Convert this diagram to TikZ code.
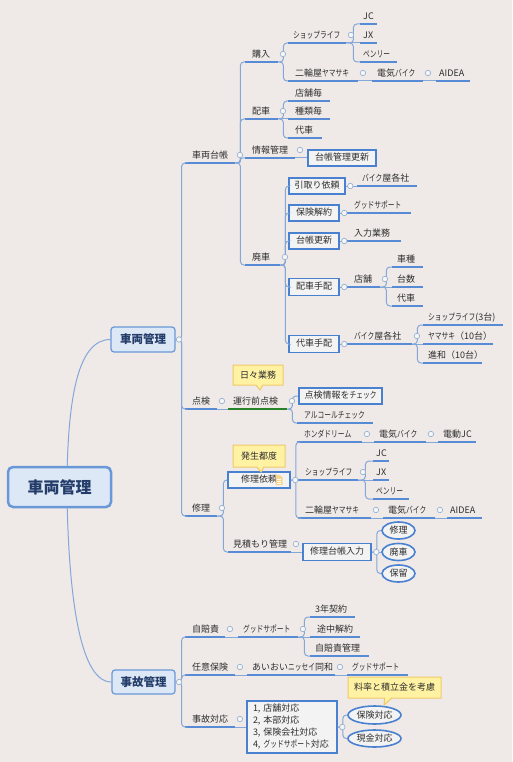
\documentclass[tikz,border=0pt]{standalone}
\usepackage{fontspec}
\setmainfont{Noto Sans CJK JP}
\usetikzlibrary{shapes.geometric,shapes.callouts,calc}
\definecolor{bgc}{RGB}{239,234,231}
\definecolor{txt}{RGB}{45,45,45}
\definecolor{ulc}{RGB}{88,139,214}
\definecolor{cnc}{RGB}{132,167,218}
\definecolor{bxc}{RGB}{74,128,208}
\definecolor{bxf}{RGB}{243,243,244}
\definecolor{l1f}{RGB}{221,232,246}
\definecolor{l1b}{RGB}{104,152,216}
\definecolor{l1t}{RGB}{35,60,105}
\definecolor{cof}{RGB}{255,242,163}
\definecolor{cob}{RGB}{240,200,105}
\definecolor{fcc}{RGB}{150,178,214}
\definecolor{grn}{RGB}{40,130,40}
\definecolor{notec}{RGB}{247,214,140}
\newcommand\tfont{\fontsize{9}{12}\selectfont}
\newcommand\hk[1]{\scalebox{0.75}[1]{#1}}
\newcommand\cnn[3]{\draw[conn] (#1) -- ++(#3,0) |- (#2);}
\newcommand\cns[2]{\draw[conn] (#1) -- (#2);}
\begin{document}
\begin{tikzpicture}[x=1pt,y=-1pt,
  pw/.code 2 args={\pgfmathsetmacro\twv{#1-2*#2}\edef\twtmp{\noexpand\tikzset{inner xsep=#2pt,text width=\twv pt}}\twtmp},
  tw/.style={pw={#1}{7}},
  tw5/.style={pw={#1}{5}},
  twn/.style={pw={#1}{3}},
  uline/.style={draw=ulc,line width=1.5pt},
  ulineg/.style={draw=grn,line width=1.5pt},
  tbase/.style={font=\tfont,text=txt,anchor=south west,inner ysep=2.5pt,text height=7pt,text depth=2pt,align=left},
  t/.style={tbase,append after command={(\tikzlastnode.south west) edge[uline] (\tikzlastnode.south east)}},
  tg/.style={tbase,append after command={(\tikzlastnode.south west) edge[ulineg] (\tikzlastnode.south east)}},
  bx/.style={draw=bxc,line width=1.6pt,fill=bxf,font=\tfont,text=txt,inner sep=0pt,minimum height=16pt,text height=7pt,text depth=2pt},
  el/.style={ellipse,draw=bxc,line width=1.6pt,fill=bxf,font=\tfont,text=txt,inner sep=0pt,minimum width=33pt,minimum height=17pt},
  co/.style={rectangle callout,draw=cob,fill=cof,line width=1pt,font=\tfont,text=txt,inner sep=0pt,callout pointer width=7pt},
  l0/.style={draw=l1b,line width=2.5pt,fill=l1f,rounded corners=5pt,minimum width=103pt,minimum height=40pt,font=\fontsize{16}{18}\selectfont\bfseries,text=l1t,inner sep=0pt},
  l1/.style={draw=l1b,line width=1.2pt,fill=l1f,rounded corners=3pt,minimum width=64pt,minimum height=25pt,font=\fontsize{11.5}{13}\selectfont\bfseries,text=l1t,inner sep=0pt},
  conn/.style={draw=cnc,line width=1pt,rounded corners=3.5pt},
  fc/.style={circle,draw=fcc,fill=white!55!bgc,line width=0.7pt,minimum size=5.5pt,inner sep=0pt}
]
\fill[bgc] (0,0) rectangle (512,762);
\useasboundingbox (0,0) rectangle (512,762);

% main nodes
\node[l0] (cen) at (59.5,487) {車両管理};
\node[l1] (sk1) at (143,339.5) {車両管理};
\node[l1,minimum width=63pt,minimum height=24pt] (jk1) at (143.5,682) {事故管理};

% vehicle ledger
\node[t,tw=50] (shadai) at (185,163) {車両台帳};
\node[t,tw=32] (tenken) at (185,409) {点検};
\node[t,tw=32] (shuri) at (185,516) {修理};
\node[t,tw=33] (konyu) at (245,62) {購入};
\node[t,tw=33] (haisha) at (245,119) {配車};
\node[t,tw=50] (joho) at (245,158) {情報管理};
\node[t,tw=35] (haisha2) at (245,265) {廃車};
\node[t,tw5=58] (shop1) at (288,43) {\hk{ショップライフ}};
\node[t,tw=70] (nirin1) at (288,81) {二輪屋\hk{ヤマサキ}};
\node[t,twn=17] (jc1) at (360,24) {JC};
\node[t,twn=17] (jx1) at (360,43) {JX};
\node[t,twn=37] (pen1) at (360,62) {\hk{ペンリー}};
\node[t,tw5=51] (den1) at (372,81) {電気\hk{バイク}};
\node[t,twn=34] (aidea1) at (436,81) {AIDEA};
\node[t,tw=42] (tenpo1) at (288,101) {店舗毎};
\node[t,tw=42] (shurui) at (288,119) {種類毎};
\node[t,tw=34] (daisha1) at (288,138) {代車};
\node[bx,minimum width=68pt] (kanri) at (342,158) {台帳管理更新};
\node[bx,minimum width=56pt] (hikitori) at (317,186) {引取り依頼};
\node[bx,minimum width=50pt] (hoken) at (314,213) {保険解約};
\node[bx,minimum width=50pt] (daicho) at (314,241) {台帳更新};
\node[bx,minimum width=50pt,minimum height=17pt] (haishate) at (314,287) {配車手配};
\node[bx,minimum width=50pt,minimum height=17pt] (daishate) at (314,344) {代車手配};
\node[t,tw5=60] (bike1) at (357,186) {\hk{バイク}屋各社};
\node[t,tw=64] (good1) at (347,213) {\hk{グッドサポート}};
\node[t,tw=54] (nyuryoku) at (347,241) {入力業務};
\node[t,tw=33] (tenpo2) at (347,287) {店舗};
\node[t,tw5=31] (shashu) at (392,267) {車種};
\node[t,tw5=31] (daisu) at (392,287) {台数};
\node[t,tw5=31] (daisha2) at (392,306) {代車};
\node[t,tw=65] (bike2) at (347,344) {\hk{バイク}屋各社};
\node[t,tw5=80] (shopl3) at (423,325) {\hk{ショップライフ}(3台)};
\node[t,tw5=70] (yama10) at (423,344) {\hk{ヤマサキ}（10台）};
\node[t,tw5=59] (shinwa) at (423,363) {進和（10台）};

% inspection
\node[tg,tw5=59] (unko) at (228,409) {運行前点検};
\node[bx,minimum width=83pt] (chk) at (340.5,396) {点検情報を\hk{チェック}};
\node[t,tw=76] (alc) at (297,423) {\hk{アルコールチェック}};

% repair
\node[bx,minimum width=62pt] (irai) at (259,480) {修理依頼\hspace{12pt}};
\fill[notec] (275.5,475) -- (280,475) -- (282.5,477.5) -- (282.5,485) -- (275.5,485) -- cycle;
\draw[white,line width=0.5pt] (277,479) -- (281,479) (277,481) -- (281,481) (277,483) -- (281,483);
\node[t,tw=65] (honda) at (297,442) {\hk{ホンダドリーム}};
\node[t,tw5=52] (den2) at (374,442) {電気\hk{バイク}};
\node[t,tw5=38] (dendo) at (438,442) {電動JC};
\node[t,tw=60] (shop2) at (298,480) {\hk{ショップライフ}};
\node[t,twn=16] (jc2) at (373,461) {JC};
\node[t,twn=16] (jx2) at (373,480) {JX};
\node[t,twn=36] (pen2) at (373,499) {\hk{ペンリー}};
\node[t,tw=73] (nirin2) at (298,518) {二輪屋\hk{ヤマサキ}};
\node[t,tw5=52] (den3) at (383,518) {電気\hk{バイク}};
\node[t,twn=35] (aidea2) at (447,518) {AIDEA};
\node[t,tw5=63] (mitsu) at (228,552) {見積もり管理};
\node[bx,minimum width=68pt,minimum height=17pt] (daicho2) at (337,552) {修理台帳入力};
\node[el] (e1) at (398.5,530.5) {修理};
\node[el] (e2) at (398.5,552) {廃車};
\node[el] (e3) at (398.5,573.5) {保留};

% accidents
\node[t,tw=40] (jibai) at (185,637) {自賠責};
\node[t,tw5=60] (good2) at (238,637) {\hk{グッドサポート}};
\node[t,tw5=45] (sannen) at (310,617) {3年契約};
\node[t,tw=50] (tochu) at (310,637) {途中解約};
\node[t,tw5=59] (jkanri) at (310,656) {自賠責管理};
\node[t,tw=50] (nini) at (185,675) {任意保険};
\node[t,tw5=88] (aioi) at (247,675) {あいおい\hk{ニッセイ}同和};
\node[t,tw5=61] (good3) at (347,675) {\hk{グッドサポート}};
\node[t,tw=50] (jiko) at (185,727) {事故対応};
\node[bx,minimum height=52pt,text width=78pt,inner xsep=6pt,align=left,text height=,text depth=] (list) at (292,727) {1, 店舗対応\\2, 本部対応\\3, 保険会社対応\\4, \hk{グッドサポート}対応};
\node[el,minimum width=53pt,minimum height=18pt] (hoke) at (374.5,715) {保険対応};
\node[el,minimum width=53pt,minimum height=17pt] (genk) at (374.5,738.5) {現金対応};

% callouts
\node[co,minimum width=50pt,minimum height=20pt,callout absolute pointer={(260,390)}] (co1) at (258,375) {日々業務};
\node[co,minimum width=52pt,minimum height=22pt,callout absolute pointer={(261,472)}] (co2) at (259,456) {発生都度};
\node[co,minimum width=93pt,minimum height=21pt,callout absolute pointer={(384,705)}] (co3) at (394.5,687.5) {料率と積立金を考慮};

% connectors
\draw[conn] (cen.70) .. controls +(2,-70) and +(-32,0) .. (sk1.west);
\draw[conn] (cen.-70) .. controls +(2,75) and +(-34,0) .. (jk1.west);
\cnn{sk1.east}{shadai.south west}{6}
\cnn{sk1.east}{tenken.south west}{6}
\cnn{sk1.east}{shuri.south west}{6}
\cnn{shadai.south east}{konyu.south west}{5}
\cnn{shadai.south east}{haisha.south west}{5}
\draw[conn,rounded corners=2pt] (shadai.south east) -- ++(5,0) |- (joho.south west);
\cnn{shadai.south east}{haisha2.south west}{5}
\cnn{konyu.south east}{shop1.south west}{5}
\cnn{konyu.south east}{nirin1.south west}{5}
\cnn{shop1.south east}{jc1.south west}{7}
\cns{shop1.south east}{jx1.south west}
\cnn{shop1.south east}{pen1.south west}{7}
\cns{nirin1.south east}{den1.south west}
\cns{den1.south east}{aidea1.south west}
\cnn{haisha.south east}{tenpo1.south west}{5}
\cns{haisha.south east}{shurui.south west}
\cnn{haisha.south east}{daisha1.south west}{5}
\cns{joho.south east}{kanri.west}
\cnn{haisha2.south east}{hikitori.west}{5}
\cnn{haisha2.south east}{hoken.west}{5}
\cnn{haisha2.south east}{daicho.west}{5}
\cnn{haisha2.south east}{haishate.west}{5}
\cnn{haisha2.south east}{daishate.west}{5}
\cns{hikitori.east}{bike1.south west}
\cns{hoken.east}{good1.south west}
\cns{daicho.east}{nyuryoku.south west}
\cns{haishate.east}{tenpo2.south west}
\cns{daishate.east}{bike2.south west}
\cnn{tenpo2.south east}{shashu.south west}{6}
\cns{tenpo2.south east}{daisu.south west}
\cnn{tenpo2.south east}{daisha2.south west}{6}
\cnn{bike2.south east}{shopl3.south west}{5}
\cns{bike2.south east}{yama10.south west}
\cnn{bike2.south east}{shinwa.south west}{5}
\cns{tenken.south east}{unko.south west}
\cnn{unko.south east}{chk.west}{5}
\cnn{unko.south east}{alc.south west}{5}
\cnn{shuri.south east}{irai.west}{6}
\cnn{shuri.south east}{mitsu.south west}{6}
\cnn{irai.east}{honda.south west}{5}
\cns{irai.east}{shop2.south west}
\cnn{irai.east}{nirin2.south west}{5}
\cns{honda.south east}{den2.south west}
\cns{den2.south east}{dendo.south west}
\cnn{shop2.south east}{jc2.south west}{7}
\cns{shop2.south east}{jx2.south west}
\cnn{shop2.south east}{pen2.south west}{7}
\cns{nirin2.south east}{den3.south west}
\cns{den3.south east}{aidea2.south west}
\cns{mitsu.south east}{daicho2.west}
\cnn{daicho2.east}{e1.west}{5}
\cns{daicho2.east}{e2.west}
\cnn{daicho2.east}{e3.west}{5}
\cnn{jk1.east}{jibai.south west}{6}
\cnn{jk1.east}{nini.south west}{6}
\cnn{jk1.east}{jiko.south west}{6}
\cns{jibai.south east}{good2.south west}
\cnn{good2.south east}{sannen.south west}{6}
\cns{good2.south east}{tochu.south west}
\cnn{good2.south east}{jkanri.south west}{6}
\cns{nini.south east}{aioi.south west}
\cns{aioi.south east}{good3.south west}
\cns{jiko.south east}{list.west}
\cnn{list.east}{hoke.west}{5}
\cnn{list.east}{genk.west}{5}

% fold markers
\foreach \n in {shadai,tenken,shuri,konyu,haisha,joho,haisha2,shop1,nirin1,den1,tenpo2,bike2,unko,honda,den2,shop2,nirin2,den3,mitsu,jibai,good2,nini,aioi,jiko}
  \node[fc] at ($(\n.south east)+(4.5,-8)$) {};
\foreach \n in {hikitori,hoken,daicho,haishate,daishate,irai,daicho2,list}
  \node[fc] at ($(\n.east)+(4.5,0)$) {};
\foreach \n in {sk1,jk1}
  \node[fc] at ($(\n.east)+(3.5,0)$) {};
\end{tikzpicture}
\end{document}
